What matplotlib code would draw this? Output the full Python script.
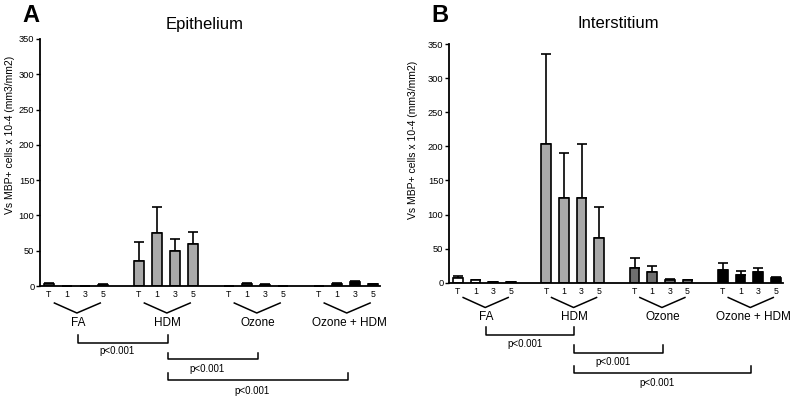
import numpy as np
import matplotlib
matplotlib.use("Agg")
import matplotlib.pyplot as plt
from matplotlib.transforms import blended_transform_factory

plt.rcParams['font.family'] = ['Liberation Sans', 'DejaVu Sans']

groups = ['FA', 'HDM', 'Ozone', 'Ozone + HDM']
times = ['T', '1', '3', '5']
colors = ['white', '#a9a9a9', '#6e6e6e', 'black']

# mean and upper error bar top, per group (T, 1, 3, 5)
epi_mean = [[3, 0.5, 0.3, 2],
            [36, 75, 50, 60],
            [0.5, 3, 2, 0.3],
            [0.5, 3, 5, 2.5]]
epi_top = [[4, 0.5, 0.3, 2.5],
           [62, 112, 66, 77],
           [0.5, 4, 2.5, 0.3],
           [0.5, 4, 6.5, 3]]

int_mean = [[7, 3.5, 1, 0.5],
            [204, 124, 124, 65],
            [21, 15, 4, 3.5],
            [18, 11, 15, 7]]
int_top = [[10, 4, 1, 0.5],
           [336, 190, 203, 111],
           [36, 25, 5.5, 4.5],
           [29, 17, 22, 8.5]]

pvals = ['p<0.001', 'p<0.001', 'p<0.001']

fig = plt.figure(figsize=(7.95, 4.01), dpi=100)
W, H = 795.0, 401.0


def panel(rect, mean, top, title, letter, letter_xy, title_xy, ylab_xy, lay):
    ax = fig.add_axes(rect)
    for g in range(4):
        x = np.arange(4) + g * 5
        m = np.array(mean[g])
        e = np.array(top[g]) - m
        ax.bar(x, m, width=0.55, color=colors[g], edgecolor='black', linewidth=1.2, zorder=2)
        ax.errorbar(x, m, yerr=[np.zeros(4), e], fmt='none', ecolor='black',
                    elinewidth=1.2, capsize=3.5, capthick=1.2, zorder=1)
    ax.set_xlim(-0.5, 18.4)
    ax.set_ylim(0, 350)
    ax.set_yticks(range(0, 351, 50))
    ax.tick_params(axis='y', labelsize=6.7, length=3, width=1, pad=1)
    ax.set_xticks([g * 5 + i for g in range(4) for i in range(4)])
    ax.set_xticklabels(times * 4)
    ax.tick_params(axis='x', labelsize=6.3, length=0, pad=3)
    for s in ['top', 'right']:
        ax.spines[s].set_visible(False)
    for s in ['left', 'bottom']:
        ax.spines[s].set_linewidth(1.3)

    fig.text(letter_xy[0] / W, 1 - letter_xy[1] / H, letter, fontsize=17,
             fontweight='bold', ha='left', va='center')
    fig.text(title_xy[0] / W, 1 - title_xy[1] / H, title, fontsize=12,
             ha='center', va='center')
    fig.text(ylab_xy[0] / W, 1 - ylab_xy[1] / H, 'Vs MBP+ cells x 10-4 (mm3/mm2)',
             fontsize=7.5, rotation=90, ha='center', va='center')

    tr = blended_transform_factory(ax.transData, fig.transFigure)
    fy = lambda py: 1 - py / H
    kw = dict(transform=tr, color='black', lw=1.1, clip_on=False)
    # V brackets and group names
    for g in range(4):
        x0 = g * 5
        ax.plot([x0 + 0.3, x0 + 1.55, x0 + 2.85],
                [fy(lay['v_top']), fy(lay['v_bot']), fy(lay['v_top'])], **kw)
        ax.text(x0 + 1.6 + (0.1 if g == 3 else 0), fy(lay['grp']), groups[g],
                fontsize=8.5, ha='center', va='center', transform=tr)
    # significance brackets
    spans = [(1.6, 6.6), (6.6, 11.6), (6.6, 16.6)]
    for k, (a, b) in enumerate(spans):
        ye, yl, yt = lay['br'][k]
        ax.plot([a, a, b, b], [fy(ye), fy(yl), fy(yl), fy(ye)], **kw)
        ax.text((a + b) / 2 - 0.3, fy(yt), pvals[k], fontsize=7,
                ha='center', va='center', transform=tr)
    return ax


lay_a = dict(v_top=303, v_bot=313, grp=323,
             br=[(335, 342.7, 350.7), (352.7, 359.3, 369), (372.7, 380, 390.7)])
panel([40 / W, 1 - 286 / H, 340 / W, 247 / H], epi_mean, epi_top, 'Epithelium', 'A',
      (22, 15.5), (205, 25), (10, 135), lay_a)

lay_b = dict(v_top=297.5, v_bot=307.5, grp=317.5,
             br=[(327.3, 335, 344), (345, 352.7, 362.3), (366, 372.7, 382.7)])
panel([449 / W, 1 - 282.7 / H, 334 / W, 238.7 / H], int_mean, int_top, 'Interstitium', 'B',
      (431, 16), (618, 24), (413, 140), lay_b)

fig.savefig('out.png', dpi=100)
